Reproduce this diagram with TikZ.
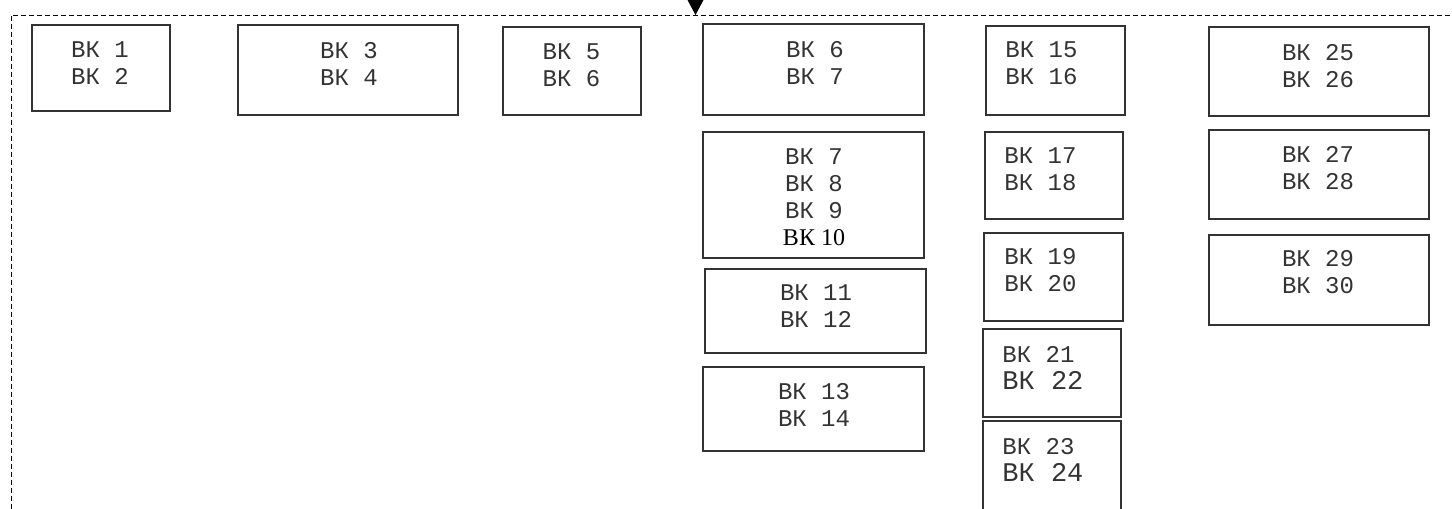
\documentclass[tikz,border=0pt]{standalone}
\usepackage{fontspec}
\setmonofont{Liberation Mono}
\newfontfamily\serifrm{Liberation Serif}
\usetikzlibrary{fit}
\definecolor{ink}{HTML}{333333}
\tikzset{
  x=0.5pt, y=-0.5pt,
  box/.style={draw=ink, line width=0.65pt, inner sep=0pt, rectangle},
  lbl/.style={inner sep=0pt, align=center, text=ink, font=\ttfamily\fontsize{12}{13.5}\selectfont},
  lbll/.style={lbl, align=left, anchor=west},
  frame/.style={draw=black, line width=0.5pt, dash pattern=on 2.5pt off 1.5pt}
}
\begin{document}
\begin{tikzpicture}
\useasboundingbox (0,0) rectangle (1452,509);
% frame
\coordinate (fl) at (11,509);
\coordinate (fc) at (11,15);
\coordinate (fr) at (1452,15);
\draw[frame] (fl) -- (fc) -- (fr);
\coordinate (ain) at (695.5,15);
\fill[black] (ain) -- (687.5,0) -- (703.5,0) -- cycle;
% column boxes
\node[box, fit={(32,25) (170,111)}] (b1) {};
\node[lbl] (t1) at (100,63.5) {ВК 1\\ВК 2};
\node[box, fit={(238,25) (458,115)}] (b3) {};
\node[lbl] (t3) at (349,63.5) {ВК 3\\ВК 4};
\node[box, fit={(503,27) (641,115)}] (b5) {};
\node[lbl] (t5) at (571.5,65) {ВК 5\\ВК 6};
% column 4
\node[box, fit={(703,24) (924,115)}] (b6) {};
\node[lbl] (t6) at (815,62.5) {ВК 6\\ВК 7};
\node[box, fit={(703,132) (924,258)}] (b7) {};
\node[lbl] (t7) at (814,197) {ВК 7\\ВК 8\\ВК 9\\{\serifrm\fontsize{12}{13.5}\selectfont\color{black}ВК 10}};
\node[box, fit={(705,269) (926,353)}] (b11) {};
\node[lbl] (t11) at (816,306.5) {ВК 11\\ВК 12};
\node[box, fit={(703,367) (924,451)}] (b13) {};
\node[lbl] (t13) at (814,405) {ВК 13\\ВК 14};
% column 5
\node[box, fit={(986,26) (1125,115)}] (b15) {};
\node[lbll] (t15) at (1005,63) {ВК 15\\ВК 16};
\node[box, fit={(985,132) (1123,219)}] (b17) {};
\node[lbll] (t17) at (1004,169) {ВК 17\\ВК 18};
\node[box, fit={(984,233) (1123,321)}] (b19) {};
\node[lbll] (t19) at (1004,270.5) {ВК 19\\ВК 20};
\node[box, fit={(983,329) (1121,417)}] (b21) {};
\node[lbll] (t21) at (1002,367.5) {ВК 21\\{\fontsize{13.5}{13.5}\selectfont ВК 22}};
\node[box, fit={(983,421) (1121,520)}] (b23) {};
\node[lbll] (t23) at (1002,460) {ВК 23\\{\fontsize{13.5}{13.5}\selectfont ВК 24}};
% column 6
\node[box, fit={(1209,27) (1429,116)}] (b25) {};
\node[lbl] (t25) at (1318,66) {ВК 25\\ВК 26};
\node[box, fit={(1209,130) (1429,219)}] (b27) {};
\node[lbl] (t27) at (1318,168.5) {ВК 27\\ВК 28};
\node[box, fit={(1209,235) (1429,325)}] (b29) {};
\node[lbl] (t29) at (1318,272) {ВК 29\\ВК 30};
\end{tikzpicture}
\end{document}
